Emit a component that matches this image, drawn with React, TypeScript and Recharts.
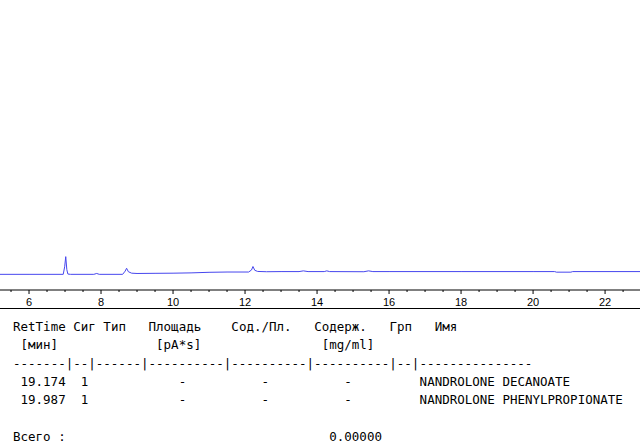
import React from 'react';
import { LineChart, Line, XAxis, YAxis } from 'recharts';

// chromatogram trace: retention time (min) vs detector signal (pA)
const times = [
  5.19, 6.0, 6.95, 6.99, 7.02, 7.05, 7.08, 7.15, 7.8, 7.88, 7.95, 8.6, 8.67, 8.71, 8.76, 8.85,
  9.0, 9.5, 10.0, 10.5, 11.0, 11.5, 12.1, 12.18, 12.22, 12.27, 12.35, 12.6, 13.0, 13.5, 13.62,
  13.75, 14.2, 14.27, 14.35, 15.3, 15.43, 15.55, 16.0, 18.0, 20.0, 20.6, 20.65, 21.05, 21.1, 22.97,
];
const signal = [
  5.4, 5.4, 5.4, 8.0, 11.5, 7.0, 5.5, 5.4, 5.4, 5.7, 5.4, 5.4, 6.5, 7.5, 6.3, 5.8,
  5.7, 5.75, 5.8, 5.9, 6.1, 6.2, 6.2, 6.9, 8.1, 6.8, 6.4, 6.3, 6.35, 6.35, 6.6,
  6.35, 6.35, 6.6, 6.35, 6.3, 6.6, 6.35, 6.35, 6.35, 6.35, 6.35, 6.15, 6.15, 6.35, 6.35,
];

const majorTicks = [6, 8, 10, 12, 14, 16, 18, 20, 22];
const minorTicks = [
  5.5, 6.5, 7, 7.5, 8.5, 9, 9.5, 10.5, 11, 11.5, 12.5, 13, 13.5, 14.5, 15, 15.5,
  16.5, 17, 17.5, 18.5, 19, 19.5, 20.5, 21, 21.5, 22.5,
];

// report table
const headers = ['RetTime', 'Сиг', 'Тип', 'Площадь', 'Сод./Пл.', 'Содерж.', 'Грп', 'Имя'];
const units = ['[мин]', '[pA*s]', '[mg/ml]'];
const divider = '-------|--|------|----------|----------|----------|--|---------------';
const retTimes = ['19.174', '19.987'];
const sigs = ['1', '1'];
const areas = ['-', '-'];
const areaPct = ['-', '-'];
const amounts = ['-', '-'];
const names = ['NANDROLONE DECANOATE', 'NANDROLONE PHENYLPROPIONATE'];
const totalLabel = 'Всего :';
const totalValue = '0.00000';

const data = times.map((t, i) => ({ t, v: signal[i] }));

const CH = 7.53;
const LEFT = 13;
const LINE0 = 318;
const LH = 18.3;
const mono = '"DejaVu Sans Mono", "Liberation Mono", monospace';

const Cell = ({ col, row, text }: { col: number; row: number; text: string }) => (
  <div
    style={{
      position: 'absolute',
      left: LEFT + col * CH,
      top: LINE0 + row * LH,
      height: 18,
      lineHeight: '18px',
      fontFamily: mono,
      fontSize: 12.5,
      color: '#000',
      whiteSpace: 'pre',
    }}
  >
    {text}
  </div>
);

const AxisTick = ({ x, y, payload }: any) => {
  const v = payload.value;
  const major = majorTicks.includes(v);
  return (
    <g>
      <line x1={x} x2={x} y1={y} y2={y + (major ? 4 : 2)} stroke="#000" />
      {major && (
        <text
          x={x}
          y={y + 12}
          textAnchor="middle"
          dominantBaseline="central"
          fontSize={11}
          fontFamily='"Liberation Sans", Arial, sans-serif'
          fill="#000"
        >
          {v}
        </text>
      )}
    </g>
  );
};

const headerCols = [0, 8, 12, 18, 29, 40, 50, 56];
const unitCols = [1, 19, 41];

export default function App() {
  return (
    <div style={{ position: 'absolute', left: 0, top: 0, width: 640, height: 448, background: '#fff' }}>
      <LineChart width={640} height={310} data={data} margin={{ top: 0, right: 0, bottom: 0, left: 0 }}>
        <XAxis
          dataKey="t"
          type="number"
          domain={[5.194, 22.97]}
          ticks={[...majorTicks, ...minorTicks].sort((a, b) => a - b)}
          interval={0}
          height={20}
          tickSize={0}
          tickMargin={0}
          tickLine={false}
          axisLine={{ stroke: '#000' }}
          tick={<AxisTick />}
          allowDataOverflow
        />
        <YAxis hide domain={[0, 100]} />
        <Line
          type="linear"
          dataKey="v"
          stroke="#4646ee"
          strokeWidth={1}
          dot={false}
          isAnimationActive={false}
        />
      </LineChart>
      <div style={{ position: 'absolute', left: 0, top: 308, width: 640, height: 1, background: '#000' }} />
      {headers.map((h, i) => (
        <Cell key={'h' + i} col={headerCols[i]} row={0} text={h} />
      ))}
      {units.map((u, i) => (
        <Cell key={'u' + i} col={unitCols[i]} row={1} text={u} />
      ))}
      <Cell col={0} row={2} text={divider} />
      {retTimes.map((rt, i) => (
        <React.Fragment key={'r' + i}>
          <Cell col={1} row={3 + i} text={rt} />
          <Cell col={9} row={3 + i} text={sigs[i]} />
          <Cell col={22} row={3 + i} text={areas[i]} />
          <Cell col={33} row={3 + i} text={areaPct[i]} />
          <Cell col={44} row={3 + i} text={amounts[i]} />
          <Cell col={54} row={3 + i} text={names[i]} />
        </React.Fragment>
      ))}
      <Cell col={0} row={6} text={totalLabel} />
      <Cell col={42} row={6} text={totalValue} />
    </div>
  );
}
